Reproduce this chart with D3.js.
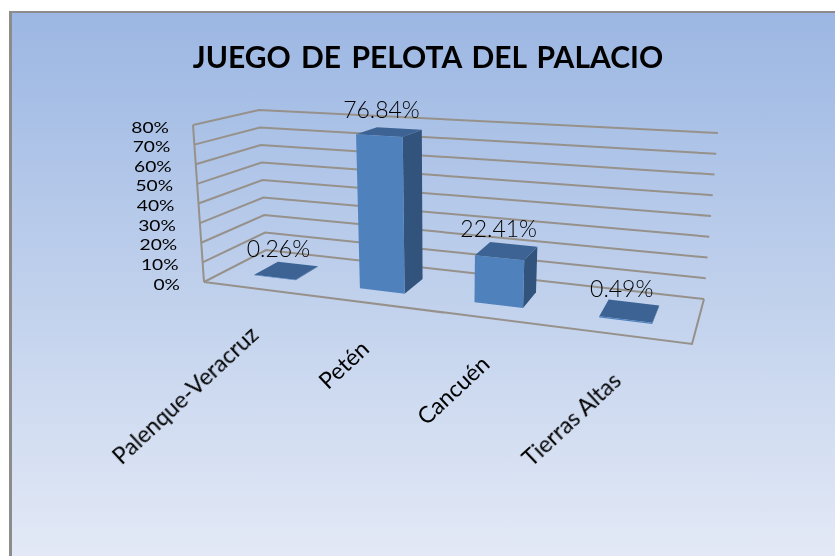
<!DOCTYPE html>
<html><head><meta charset="utf-8">
<script src="https://cdn.jsdelivr.net/npm/d3@7"></script>
<style>html,body{margin:0;padding:0;background:#fff}svg{display:block}text{font-family:Lato,"Open Sans",sans-serif;fill:#000}</style>
</head><body><svg id="c" width="835" height="556"></svg>
<script>
const titleText = "JUEGO DE  PELOTA  DEL PALACIO";
const categories = ["Palenque-Veracruz","Petén","Cancuén","Tierras Altas"];
const values = [0.26,76.84,22.41,0.49];
const valueLabels = ["0.26%","76.84%","22.41%","0.49%"];
const ticks = [0,10,20,30,40,50,60,70,80];

const W=835,H=556;
// 3D box corners of the plot, [x,y] in the picture: front-left, front-right, back-right, back-left
const floorQuad=[[204,282],[692,344],[704,299],[266,250]];
const topQuad=[[193,125],[706.5,154.5],[718,133],[259,110]];

function homography(q){
  const [[x0,y0],[x1,y1],[x2,y2],[x3,y3]]=q;
  const dx1=x1-x2,dx2=x3-x2,sx=x0-x1+x2-x3,dy1=y1-y2,dy2=y3-y2,sy=y0-y1+y2-y3;
  const den=dx1*dy2-dx2*dy1;
  const g=(sx*dy2-dx2*sy)/den,h=(dx1*sy-sx*dy1)/den;
  const a=x1-x0+g*x1,b=x3-x0+h*x3,d=y1-y0+g*y1,e=y3-y0+h*y3;
  return (u,v)=>{const w=g*u+h*v+1;return [(a*u+b*v+x0)/w,(d*u+e*v+y0)/w];};
}
const floorH=homography(floorQuad),topH=homography(topQuad);
const yScale=d3.scaleLinear().domain([0,80]).range([0,1]);
const xScale=d3.scaleBand().domain(categories).range([0,0.995]).paddingInner(0.6).paddingOuter(0.3);
const zScale=d3.scaleBand().domain(["s"]).range([0,1]).paddingOuter(0.75);
function P(u,z,val){
  const a=floorH(u,z),b=topH(u,z),t=yScale(val);
  return [a[0]+(b[0]-a[0])*t,a[1]+(b[1]-a[1])*t];
}
const svg=d3.select("#c");
const defs=svg.append("defs");
const g=defs.append("linearGradient").attr("id","bg").attr("x1",0).attr("y1",0).attr("x2",0).attr("y2",1);
[[0,"#9cb7e3"],[0.5,"#bfd0ec"],[1,"#e3e9f6"]].forEach(s=>g.append("stop").attr("offset",s[0]).attr("stop-color",s[1]));
defs.append("filter").attr("id","soft").append("feGaussianBlur").attr("stdDeviation",0.5);

svg.append("rect").attr("x",9).attr("y",11).attr("width",W-9).attr("height",H-11).attr("fill","#8c8c8c");
svg.append("rect").attr("x",12).attr("y",13).attr("width",W-12).attr("height",H-13).attr("fill","url(#bg)");

const plot=svg.append("g").attr("filter","url(#soft)");
plot.append("text").attr("x",428).attr("y",68).attr("text-anchor","middle")
  .style("font-size","30px").style("font-weight",700).style("word-spacing","3px").text(titleText);

const line=d3.line();
const grid=plot.append("g").attr("fill","none").attr("stroke","#96918a").attr("stroke-width",2);
ticks.forEach(t=>{
  grid.append("path").attr("d",line([P(0,0,t),P(0,1,t),P(1,1,t)]));
});
grid.append("path").attr("d",line([P(0,0,0),P(0,0,80)]));
grid.append("path").attr("d",line([P(0,0,0),P(1,0,0),P(1,1,0)]));

const bars=plot.selectAll("g.bar").data(categories).join("g").attr("class","bar");
bars.each(function(c,i){
  const u0=xScale(c),u1=u0+xScale.bandwidth(),z0=zScale("s"),z1=z0+zScale.bandwidth(),v=values[i];
  const b=d3.select(this);
  const poly=(pts,f)=>b.append("path").attr("d",line(pts)+"Z").attr("fill",f);
  poly([P(u1,z0,0),P(u1,z1,0),P(u1,z1,v),P(u1,z0,v)],"#31527c");
  poly([P(u0,z0,v),P(u1,z0,v),P(u1,z1,v),P(u0,z1,v)],"#3c6494");
  poly([P(u0,z0,0),P(u1,z0,0),P(u1,z0,v),P(u0,z0,v)],"#4f81bd");
});
plot.selectAll("text.val").data(categories).join("text").attr("class","val")
  .attr("text-anchor","middle").style("font-size","23px").style("font-weight",300)
  .attr("transform",(c,i)=>{
    const p=P(xScale(c)+xScale.bandwidth()/2,0.5,values[i]);
    return `translate(${p[0]-8},${p[1]-14})`;
  }).text((c,i)=>valueLabels[i]);
plot.selectAll("text.tick").data(ticks).join("text").attr("class","tick")
  .attr("text-anchor","end").style("font-size","15.5px")
  .attr("transform",t=>{
    const p=P(0,0,t);
    return `translate(${p[0]-24},${p[1]+7.5}) scale(1.24,1)`;
  }).text(t=>t+"%");
plot.selectAll("text.cat").data(categories).join("text").attr("class","cat")
  .attr("text-anchor","end").style("font-size","23px")
  .attr("transform",c=>{
    const p=P(xScale(c)+xScale.bandwidth()/2,0,0);
    return `translate(${p[0]+4},${p[1]+48}) rotate(-43)`;
  }).text(c=>c);
</script></body></html>
